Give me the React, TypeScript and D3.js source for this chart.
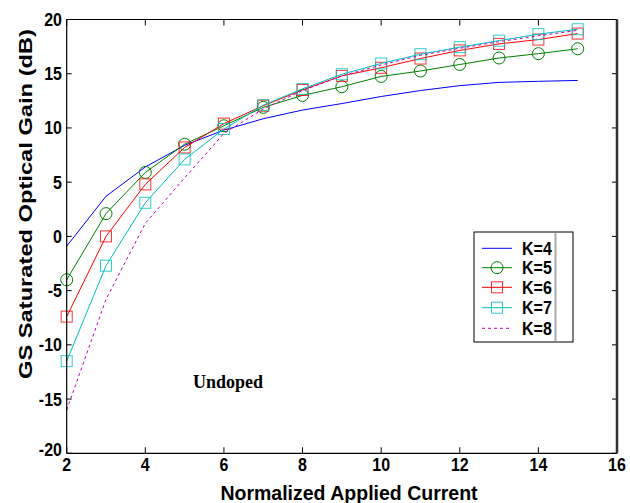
import React from "react";
import * as d3 from "d3";

const xValues = [2, 3, 4, 5, 6, 7, 8, 9, 10, 11, 12, 13, 14, 15];
const k4 = [-0.9, 3.7, 6.4, 8.4, 9.8, 10.85, 11.65, 12.25, 12.9, 13.45, 13.9, 14.2, 14.3, 14.38];
const k5 = [-4.0, 2.1, 5.9, 8.5, 10.2, 11.9, 13.0, 13.8, 14.75, 15.25, 15.85, 16.45, 16.85, 17.3];
const k6 = [-7.4, 0.0, 4.8, 8.2, 10.4, 12.05, 13.5, 14.8, 15.55, 16.4, 17.15, 17.75, 18.15, 18.7];
const k7 = [-11.5, -2.7, 3.1, 7.1, 9.9, 12.1, 13.6, 14.95, 15.95, 16.8, 17.45, 18.05, 18.65, 19.1];
const k8 = [-16.0, -5.8, 1.2, 5.4, 9.5, 11.75, 13.45, 14.8, 15.8, 16.7, 17.35, 17.95, 18.5, 19.0];

const seriesNames = ["K=4", "K=5", "K=6", "K=7", "K=8"];
const xTicks = [2, 4, 6, 8, 10, 12, 14, 16];
const yTicks = [-20, -15, -10, -5, 0, 5, 10, 15, 20];

const series = [
  { name: seriesNames[0], values: k4, color: "#0000ff", marker: "none", dash: "" },
  { name: seriesNames[1], values: k5, color: "#008000", marker: "circle", dash: "" },
  { name: seriesNames[2], values: k6, color: "#ff0000", marker: "square", dash: "" },
  { name: seriesNames[3], values: k7, color: "#00bfbf", marker: "square", dash: "" },
  { name: seriesNames[4], values: k8, color: "#bf00bf", marker: "none", dash: "3,3" },
];

const W = 630, H = 503;
const L = 66.7, R = 617, T = 19.5, B = 453.3;
const FONT = "'Liberation Sans', Arial, sans-serif";

function Marker({ type, x, y, color }: { type: string; x: number; y: number; color: string }) {
  if (type === "circle")
    return <circle cx={x} cy={y} r={6} fill="none" stroke={color} strokeWidth={1} />;
  if (type === "square")
    return <rect x={x - 5.5} y={y - 5.5} width={11} height={11} fill="none" stroke={color} strokeWidth={1} opacity={0.8} />;
  return null;
}

function TallText({ x, y, anchor, size, children }: { x: number; y: number; anchor: string; size: number; children: any }) {
  return (
    <text
      transform={`translate(${x}, ${y}) scale(1, 1.15)`}
      textAnchor={anchor}
      fontFamily={FONT}
      fontWeight="bold"
      fontSize={size}
    >
      {children}
    </text>
  );
}

export default function App() {
  const x = d3.scaleLinear().domain([2, 16]).range([L, R]);
  const y = d3.scaleLinear().domain([-20, 20]).range([B, T]);
  const line = d3
    .line<number>()
    .x((_, i) => x(xValues[i]))
    .y((d) => y(d));

  const legX = 474, legY = 232, legW = 99, legH = 110;
  const rowY = [248.3, 267.7, 287.3, 307.7, 328.3];

  return (
    <svg width={W} height={H} style={{ position: "absolute", left: 0, top: 0, background: "#fff" }}>
      <rect x={L} y={T} width={R - L} height={B - T} fill="#fff" stroke="none" />
      {xTicks.map((t) => (
        <g key={"xt" + t}>
          <line x1={x(t)} x2={x(t)} y1={B} y2={B - 6} stroke="#000" />
          <line x1={x(t)} x2={x(t)} y1={T} y2={T + 6} stroke="#000" />
          <TallText x={x(t)} y={471} anchor="middle" size={16}>
            {t}
          </TallText>
        </g>
      ))}
      {yTicks.map((t) => (
        <g key={"yt" + t}>
          <line x1={L} x2={L + 5} y1={y(t)} y2={y(t)} stroke="#000" />
          <line x1={R} x2={R - 5} y1={y(t)} y2={y(t)} stroke="#000" />
          <TallText x={62} y={y(t) + (t === -20 ? 3 : 6.5)} anchor="end" size={16}>
            {t}
          </TallText>
        </g>
      ))}

      {series.map((s) => (
        <g key={s.name}>
          <path d={line(s.values) || ""} fill="none" stroke={s.color} strokeWidth={1} strokeDasharray={s.dash || undefined} />
          {s.marker !== "none" &&
            s.values.map((v, i) => <Marker key={i} type={s.marker} x={x(xValues[i])} y={y(v)} color={s.color} />)}
        </g>
      ))}

      <line x1={L} x2={R} y1={T} y2={T} stroke="#000" strokeWidth={1} />
      <line x1={L} x2={R} y1={B} y2={B} stroke="#000" strokeWidth={1.2} />
      <line x1={L} x2={L} y1={T} y2={B} stroke="#000" strokeWidth={1.2} />
      <line x1={R} x2={R} y1={T} y2={B} stroke="#333" strokeWidth={2.5} />

      <rect x={legX} y={legY} width={legW} height={legH} fill="#fff" stroke="#000" strokeWidth={1} />
      <line x1={555.5} x2={555.5} y1={legY + 1} y2={legY + legH - 1} stroke="#aaa" strokeWidth={2} />
      {series.map((s, i) => (
        <g key={"leg" + s.name}>
          <line x1={482} x2={512} y1={rowY[i]} y2={rowY[i]} stroke={s.color} strokeWidth={1} strokeDasharray={s.dash || undefined} />
          <Marker type={s.marker} x={497} y={rowY[i]} color={s.color} />
          <TallText x={522} y={rowY[i] + 6.5} anchor="start" size={16}>
            {s.name}
          </TallText>
        </g>
      ))}

      <text x={193} y={388} fontFamily="'Liberation Serif', 'Times New Roman', serif" fontWeight="bold" fontSize={18}>
        Undoped
      </text>

      <text x={349} y={500} textAnchor="middle" fontFamily={FONT} fontWeight="bold" fontSize={19.5}>
        Normalized Applied Current
      </text>
      <text
        transform={`translate(32, 204) rotate(-90)`}
        textAnchor="middle"
        fontFamily={FONT}
        fontWeight="bold"
        fontSize={19}
        textLength={350}
        lengthAdjust="spacingAndGlyphs"
      >
        GS Saturated Optical Gain (dB)
      </text>
    </svg>
  );
}
